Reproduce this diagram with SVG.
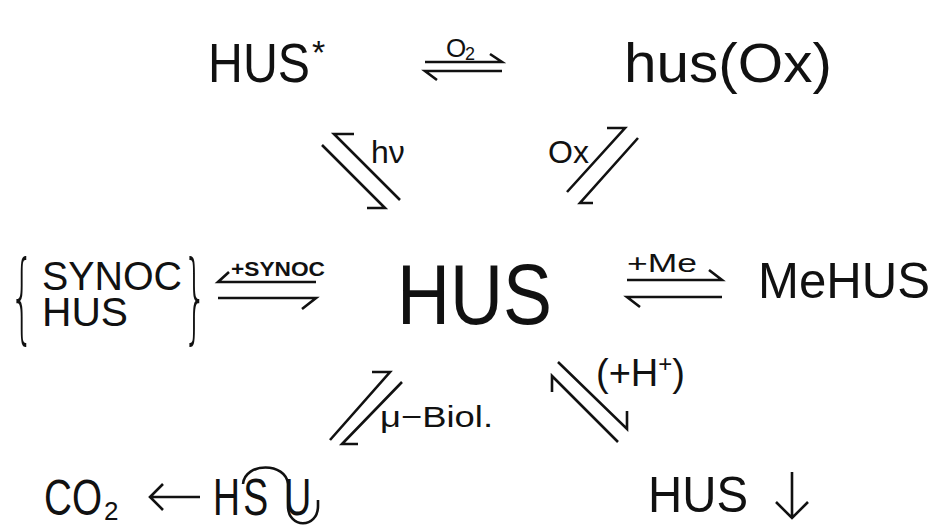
<svg xmlns="http://www.w3.org/2000/svg" width="940" height="527" viewBox="0 0 940 527">
<style>
text{font-family:"Liberation Sans",Arial,sans-serif;fill:#111}
.ar{fill:none;stroke:#111;stroke-width:2.6;stroke-linejoin:miter;stroke-linecap:butt}
.lb{font-size:32px}
.br{font-family:"DejaVu Sans",sans-serif;font-weight:100;font-size:98px}
</style>
<rect width="940" height="527" fill="#fff"/>
<g id="hus-star"><text x="208" y="82" font-size="56" textLength="102" lengthAdjust="spacingAndGlyphs">HUS</text><text x="312" y="64" font-size="34">*</text></g>
<g id="hus-ox"><text x="624" y="82" font-size="56" textLength="208" lengthAdjust="spacingAndGlyphs">hus(Ox)</text></g>
<g id="synoc-hus">
<text class="br" x="10" y="331" textLength="24" lengthAdjust="spacingAndGlyphs">{</text>
<text x="42" y="290" font-size="40" textLength="140" lengthAdjust="spacingAndGlyphs">SYNOC</text>
<text x="42" y="326" font-size="40" textLength="86" lengthAdjust="spacingAndGlyphs">HUS</text>
<text class="br" x="183" y="331" textLength="24" lengthAdjust="spacingAndGlyphs">}</text>
</g>
<g id="hus"><text x="397" y="324" font-size="86" textLength="155" lengthAdjust="spacingAndGlyphs">HUS</text></g>
<g id="mehus"><text x="758" y="298" font-size="50" textLength="172" lengthAdjust="spacingAndGlyphs">MeHUS</text></g>
<g id="co2-hsu">
<text x="44" y="515" font-size="50" textLength="58" lengthAdjust="spacingAndGlyphs">CO</text>
<text x="104" y="520" font-size="26">2</text>
<path class="ar" d="M163,484 L150,497 L163,510 M150,497 H200"/>
<text transform="translate(213,515) scale(0.72,1)" font-size="52" x="0 42 99">HSU</text>
<path class="ar" d="M243,484 C245,462 286,462 288,484 V506 C288,529 318,529 318,506 V500"/>
</g>
<g id="hus-precip">
<text x="648" y="512" font-size="50" textLength="100" lengthAdjust="spacingAndGlyphs">HUS</text>
<path class="ar" d="M792,472 V518 M776,502 L792,518 L808,502"/>
</g>
<g id="connectors">
<path class="ar" d="M425,62 H502 L490,54"/>
<path class="ar" d="M437,80 L425,71 H502"/>
<text x="446" y="57" font-size="26">O</text><text x="465" y="60" font-size="18">2</text>
<path class="ar" d="M322,145 L385,208 H367"/>
<path class="ar" d="M400,200 L334,134 H354"/>
<text x="371" y="163" class="lb">hν</text>
<path class="ar" d="M567,192 L625,128 H607"/>
<path class="ar" d="M638,138 L580,203 H593"/>
<text x="548" y="163" class="lb">Ox</text>
<path class="ar" d="M229,272 L218,282 H316"/>
<path class="ar" d="M218,298 H316 L302,309"/>
<text x="231" y="276" font-size="20" font-weight="bold" textLength="94" lengthAdjust="spacingAndGlyphs">+SYNOC</text>
<path class="ar" d="M627,280 H722 L709,270"/>
<path class="ar" d="M640,307 L627,297 H722"/>
<text x="627" y="272" font-size="26" textLength="70" lengthAdjust="spacingAndGlyphs">+Me</text>
<path class="ar" d="M330,440 L390,372 H372"/>
<path class="ar" d="M402,382 L342,444 H358"/>
<text x="380" y="427" font-size="30" textLength="113" lengthAdjust="spacingAndGlyphs">μ−Biol.</text>
<path class="ar" d="M558,362 L627,429 V411"/>
<path class="ar" d="M618,442 L552,376 V392"/>
<text x="596" y="386" font-size="38">(+H<tspan font-size="24" dy="-14">+</tspan><tspan dy="14">)</tspan></text>
</g>
</svg>
